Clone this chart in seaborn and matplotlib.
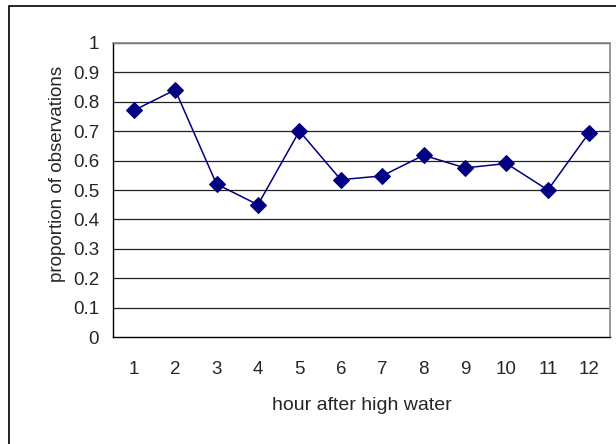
import matplotlib
matplotlib.use("Agg")
import matplotlib.pyplot as plt
import seaborn as sns
import numpy as np
import pandas as pd
from matplotlib.patches import Rectangle

hours = [1, 2, 3, 4, 5, 6, 7, 8, 9, 10, 11, 12]
proportion = [0.77, 0.84, 0.52, 0.45, 0.70, 0.535, 0.548, 0.618, 0.575, 0.59, 0.50, 0.695]
y_ticks = [0, 0.1, 0.2, 0.3, 0.4, 0.5, 0.6, 0.7, 0.8, 0.9, 1]
y_tick_labels = ["0", "0.1", "0.2", "0.3", "0.4", "0.5", "0.6", "0.7", "0.8", "0.9", "1"]
x_label = "hour after high water"
y_label = "proportion of observations"

df = pd.DataFrame({"hour": hours, "proportion": proportion})

sns.set_style("white")
plt.rcParams['font.family'] = ['Liberation Sans', 'DejaVu Sans']

fig = plt.figure(figsize=(6.16, 4.44), dpi=100)
ax = fig.add_axes([113/616, 1 - 337.3/444, (610 - 113)/616, (337.3 - 42.7)/444])

# outer chart border
fig.patches.append(Rectangle((9/616, -0.1), 1.2, 1 - 6/444 + 0.1, transform=fig.transFigure,
                             fill=False, edgecolor="black", linewidth=1.2))

for t in y_ticks[1:]:
    ax.axhline(t, color="#222222", linewidth=0.9, zorder=1)

sns.lineplot(data=df, x="hour", y="proportion", ax=ax, color="#000080", linewidth=1.1,
             marker="D", markersize=8, markeredgecolor="#000080", markerfacecolor="#000080",
             zorder=3)

ax.set_xlim(0.5, 12.5)
ax.set_ylim(0, 1)
ax.set_yticks(y_ticks)
ax.set_yticklabels(y_tick_labels, fontsize=13.5)
ax.set_xticks(hours)
ax.set_xticklabels([str(h) for h in hours], fontsize=13.5)
ax.set_xticks(np.arange(0.5, 13, 1), minor=True)
ax.tick_params(axis="x", which="major", length=0, pad=17)
ax.tick_params(axis="x", which="minor", length=5, width=1, color="black", direction="out")
ax.tick_params(axis="y", which="major", length=5, width=1, color="black", direction="out", pad=5)

for s in ["left", "bottom"]:
    ax.spines[s].set_color("black")
    ax.spines[s].set_linewidth(1)
for s in ["top", "right"]:
    ax.spines[s].set_color("#888888")
    ax.spines[s].set_linewidth(1.2)

ax.set_xlabel(x_label, fontsize=14, labelpad=14)
ax.set_ylabel(y_label, fontsize=13.5)
ax.yaxis.set_label_coords(-0.095, 0.554)

fig.savefig("out.png", dpi=100)
